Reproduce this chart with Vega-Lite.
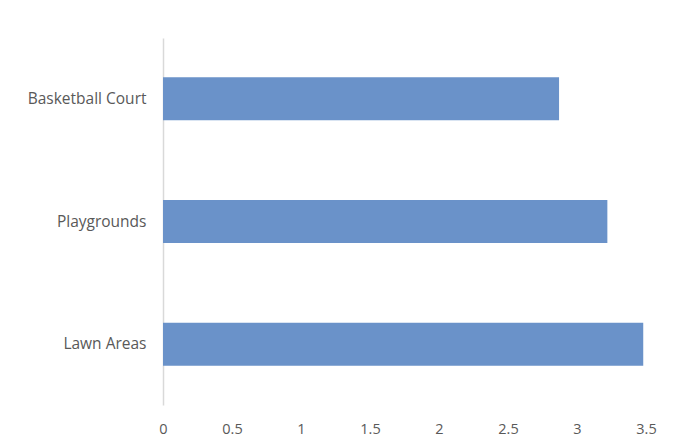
{
  "$schema": "https://vega.github.io/schema/vega-lite/v6.json",
  "autosize": "none",
  "padding": {"left": 163, "top": 38, "right": 27, "bottom": 37},
  "width": 483,
  "height": 367,
  "background": "white",
  "config": {"view": {"stroke": null}},
  "data": {"values": [
    {"category": "Basketball Court", "value": 2.87},
    {"category": "Playgrounds", "value": 3.22},
    {"category": "Lawn Areas", "value": 3.48}
  ]},
  "mark": {"type": "bar", "color": "#6a92c9"},
  "encoding": {
    "y": {
      "field": "category", "type": "nominal", "sort": null,
      "scale": {"paddingInner": 0.65, "paddingOuter": 0.32},
      "axis": {"title": null, "ticks": false, "domainColor": "#d9d9d9", "domainWidth": 1.5,
               "labelFont": "Open Sans", "labelFontSize": 15.5, "labelColor": "#595959",
               "labelPadding": 17}
    },
    "x": {
      "field": "value", "type": "quantitative",
      "scale": {"domain": [0, 3.5], "nice": false},
      "axis": {"title": null, "grid": false, "domain": false, "ticks": false,
               "values": [0, 0.5, 1, 1.5, 2, 2.5, 3, 3.5], "format": "~g",
               "labelFont": "Open Sans", "labelFontSize": 14.5, "labelColor": "#595959",
               "labelPadding": 17, "labelFlush": false}
    }
  }
}
